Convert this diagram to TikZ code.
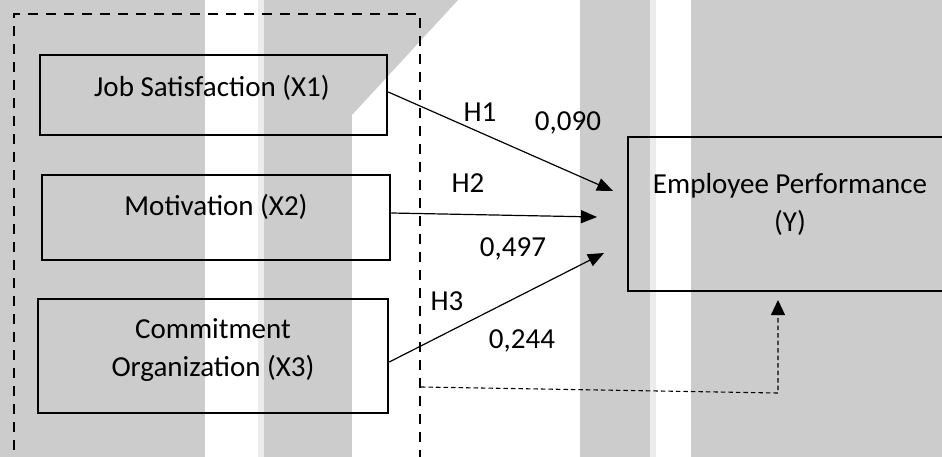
\documentclass[tikz,border=0pt]{standalone}
\usepackage{fontspec}
\setmainfont{Carlito}
\usetikzlibrary{arrows.meta,calc}
\definecolor{bg}{RGB}{204,204,204}
\definecolor{bgl}{RGB}{236,236,236}
\begin{document}
\begin{tikzpicture}[x=1pt,y=-1pt,
  box/.style={draw=black, line width=2.5pt, inner sep=0pt},
  txt/.style={font=\fontsize{29}{38}\selectfont, inner sep=0pt, align=center},
  lbl/.style={txt, anchor=base},
  arr/.style={-{Triangle[length=16pt,width=13pt]}, line width=1.2pt},
  frame/.style={line width=2.3pt, dash pattern=on 10pt off 8pt},
  thindash/.style={line width=1.1pt, dash pattern=on 4.5pt off 3pt, -{Triangle[length=15pt,width=14pt]}}]
\clip (0,0) rectangle (942,457);
\fill[white] (0,0) rectangle (942,457);
% background stripes
\fill[bg] (0,0) rectangle (205,457);
\fill[bgl] (258,0) rectangle (264,457);
\fill[bg] (264,0) rectangle (352,457);
\fill[bg] (352,0) -- (458,0) -- (352,115) -- cycle;
\fill[bg] (580,0) rectangle (650,457);
\fill[bgl] (650,0) rectangle (656,457);
\fill[bg] (691,0) rectangle (942,457);
% dashed frame
\draw[frame] (14,450) -- (14,14) -- (420,14) -- (420,457);
% boxes
\node[box, minimum width=347pt, minimum height=80pt] (js) at (213.5,95) {};
\node[box, minimum width=348pt, minimum height=85pt] (mo) at (216,217.5) {};
\node[box, minimum width=350pt, minimum height=114pt] (co) at (213,356) {};
\node[box, minimum width=330pt, minimum height=154pt] (ep) at (793,214) {};
% box texts
\node[lbl] (jst) at (212,97) {Job Satisfaction (X1)};
\node[lbl] (mot) at (216,215) {Motivation (X2)};
\node[txt] (cot) at (213,350) {Commitment\\Organization (X3)};
\node[txt] (ept) at (790,204.5) {Employee Performance\\(Y)};
% arrows
\coordinate (t1) at (613,191);
\coordinate (t2) at (597,217);
\coordinate (t3) at (604,253);
\draw[arr] ($(js.east)+(0,-3)$) -- (t1);
\draw[arr] ($(mo.east)+(0,-4.5)$) -- (t2);
\draw[arr] ($(co.east)+(0,6)$) -- (t3);
% dashed connector
\coordinate (d0) at (421,387);
\coordinate (d1) at (778,393);
\coordinate (d2) at (778,300);
\draw[thindash] (d0) -- (d1) -- (d2);
% labels
\node[lbl] (h1) at (480,122) {H1};
\node[lbl] (v1) at (568,131) {0,090};
\node[lbl] (h2) at (468,193) {H2};
\node[lbl] (v2) at (513,256) {0,497};
\node[lbl] (h3) at (447,310) {H3};
\node[lbl] (v3) at (522,348) {0,244};
\end{tikzpicture}
\end{document}
